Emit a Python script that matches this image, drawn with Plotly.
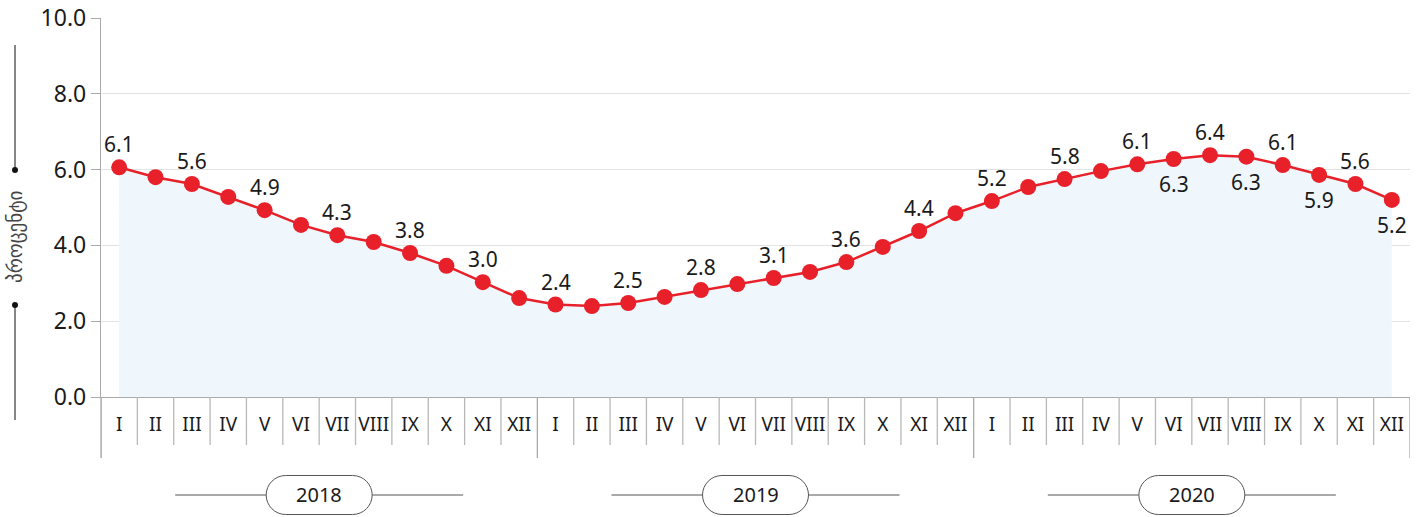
import plotly.graph_objects as go

months = ["I", "II", "III", "IV", "V", "VI", "VII", "VIII", "IX", "X", "XI", "XII"]
years = ["2018", "2019", "2020"]
values = [6.06, 5.80, 5.62, 5.28, 4.93, 4.54, 4.27, 4.09, 3.80, 3.46, 3.03, 2.61,
          2.44, 2.40, 2.48, 2.64, 2.82, 2.98, 3.14, 3.30, 3.56, 3.96, 4.38, 4.85,
          5.17, 5.54, 5.75, 5.96, 6.14, 6.28, 6.38, 6.34, 6.12, 5.86, 5.62, 5.20]
# label placement: "a" above, "b" below, "" none
label_pos = ["a", "", "a", "", "a", "", "a", "", "a", "", "a", "",
             "a", "", "a", "", "a", "", "a", "", "a", "", "a", "",
             "a", "", "a", "", "a", "b", "a", "b", "a", "b", "a", "b"]
y_title = "პროცენტი"

x = list(range(len(values)))
ticktext = months * len(years)

RED = "#E8202A"
FONT = "Noto Sans"
W, H = 1426, 517
# plot area in page pixels: left 101, right 1410, top 18, bottom 397
L, T = 101, 18
R = W - 1410
B = H - 397
ph = H - T - B
pw = W - L - R

def py(page_y):
    return (397 - page_y) / ph

def px(page_x):
    return (page_x - 101) / pw

fig = go.Figure()
fig.add_trace(go.Scatter(
    x=x, y=values, mode="lines+markers",
    line=dict(color=RED, width=2.5),
    marker=dict(color=RED, size=16),
    fill="tozeroy", fillcolor="#EFF7FD",
    hoverinfo="skip", showlegend=False,
))

annotations = []
for xi, v, p in zip(x, values, label_pos):
    if not p:
        continue
    annotations.append(dict(x=xi, y=v, xref="x", yref="y", text=f"{v:.1f}",
                            showarrow=False, xanchor="center", yanchor="middle",
                            yshift=23 if p == "a" else -25,
                            font=dict(size=21, color="#1a1a1a", family=FONT)))

shapes = []
# month separators
for i in range(len(values) + 1):
    is_year = i % 12 == 0
    shapes.append(dict(type="line", xref="x", yref="paper",
                       x0=i - 0.5, x1=i - 0.5, y0=0, y1=py(458 if is_year else 445),
                       line=dict(color="#b8b8b8" if not is_year else "#aaaaaa", width=1.3)))

# year labels with rounded boxes and lines
yc = py(495)
for k, yr in enumerate(years):
    cx = k * 12 + 5.5
    shapes.append(dict(type="line", xref="x", yref="paper", xsizemode="pixel",
                       xanchor=cx, x0=-144, x1=-53, y0=yc, y1=yc,
                       line=dict(color="#555555", width=1)))
    shapes.append(dict(type="line", xref="x", yref="paper", xsizemode="pixel",
                       xanchor=cx, x0=53, x1=144, y0=yc, y1=yc,
                       line=dict(color="#555555", width=1)))
    hw, hh, r = 53, 19.5, 19.5
    path = (f"M {-hw + r},{-hh} L {hw - r},{-hh} "
            f"C {hw - r + r * 0.55},{-hh} {hw},{-hh * 0.55} {hw},0 "
            f"C {hw},{hh * 0.55} {hw - r + r * 0.55},{hh} {hw - r},{hh} "
            f"L {-hw + r},{hh} "
            f"C {-hw + r - r * 0.55},{hh} {-hw},{hh * 0.55} {-hw},0 "
            f"C {-hw},{-hh * 0.55} {-hw + r - r * 0.55},{-hh} {-hw + r},{-hh} Z")
    shapes.append(dict(type="path", xref="x", yref="paper", xsizemode="pixel",
                       ysizemode="pixel", xanchor=cx, yanchor=yc, path=path,
                       fillcolor="white", line=dict(color="#555555", width=1)))
    annotations.append(dict(x=cx, y=yc, xref="x", yref="paper", text=yr,
                            showarrow=False, xanchor="center", yanchor="middle",
                            font=dict(size=20, color="#1a1a1a", family=FONT)))

# y-axis title decoration
xt = px(15)
shapes.append(dict(type="line", xref="paper", yref="paper", x0=xt, x1=xt,
                   y0=py(45), y1=py(170), line=dict(color="#444444", width=1.3)))
shapes.append(dict(type="line", xref="paper", yref="paper", x0=xt, x1=xt,
                   y0=py(305), y1=py(420), line=dict(color="#444444", width=1.3)))
for yy in (170, 305):
    shapes.append(dict(type="circle", xref="paper", yref="paper", xsizemode="pixel",
                       ysizemode="pixel", xanchor=xt, yanchor=py(yy),
                       x0=-3, x1=3, y0=-3, y1=3, fillcolor="#111111",
                       line=dict(width=0)))
annotations.append(dict(x=xt, y=py(237), xref="paper", yref="paper", text=y_title,
                        textangle=-90, showarrow=False, xanchor="center",
                        yanchor="middle",
                        font=dict(size=19, color="#444444", family="DejaVu Sans")))
# left axis extension below plot
shapes.append(dict(type="line", xref="paper", yref="paper", x0=0, x1=0,
                   y0=0, y1=py(458), line=dict(color="#aaaaaa", width=1.3)))

fig.update_layout(
    width=W, height=H,
    margin=dict(l=L, r=R, t=T, b=B, autoexpand=False),
    plot_bgcolor="white", paper_bgcolor="white",
    shapes=shapes, annotations=annotations,
    font=dict(family=FONT, color="#1a1a1a"),
    xaxis=dict(range=[-0.5, len(values) - 0.5], tickvals=x, ticktext=ticktext,
               showgrid=False, zeroline=False, showline=True, linecolor="#aaaaaa",
               linewidth=1.3, ticks="", ticklabelstandoff=10, automargin=False,
               tickfont=dict(size=19, color="#1a1a1a", family=FONT), fixedrange=True),
    yaxis=dict(range=[0, 10], tickvals=[0, 2, 4, 6, 8, 10], tickformat=".1f",
               showgrid=True, gridcolor="#e3e3e3", gridwidth=1.3, zeroline=False,
               showline=True, linecolor="#aaaaaa", linewidth=1.3, automargin=False,
               ticks="outside", ticklen=9, tickcolor="#aaaaaa", tickwidth=1.3,
               ticklabeloverflow="allow",
               tickfont=dict(size=23, color="#1a1a1a", family=FONT), fixedrange=True),
)

fig.write_html("out.html", config={"displayModeBar": False},
               post_script="document.body.style.margin='0';document.body.style.overflow='hidden';")
